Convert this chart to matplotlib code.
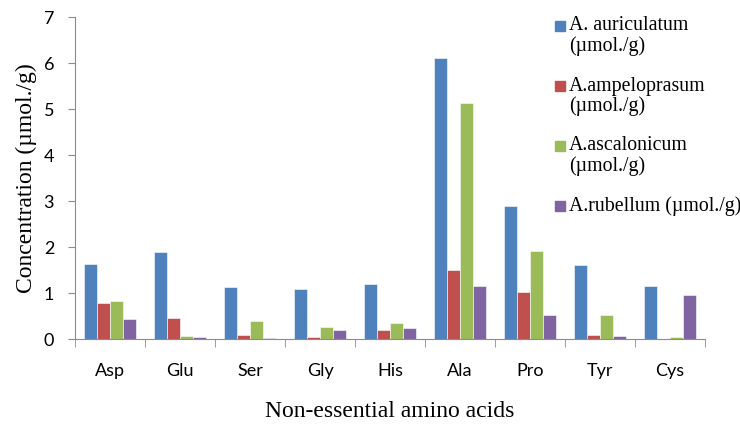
import matplotlib.pyplot as plt
import numpy as np
from matplotlib.patches import Rectangle

amino_acids = ["Asp", "Glu", "Ser", "Gly", "His", "Ala", "Pro", "Tyr", "Cys"]
auriculatum = [1.63, 1.90, 1.12, 1.08, 1.19, 6.11, 2.89, 1.61, 1.15]
ampeloprasum = [0.78, 0.45, 0.09, 0.04, 0.19, 1.49, 1.02, 0.09, 0.0]
ascalonicum = [0.82, 0.07, 0.39, 0.27, 0.35, 5.13, 1.92, 0.52, 0.04]
rubellum = [0.43, 0.04, 0.02, 0.19, 0.25, 1.15, 0.52, 0.07, 0.95]

series = [
    ("A. auriculatum\n(\u00b5mol./g)", auriculatum, "#4F81BD"),
    ("A.ampeloprasum\n(\u00b5mol./g)", ampeloprasum, "#C0504D"),
    ("A.ascalonicum\n(\u00b5mol./g)", ascalonicum, "#9BBB59"),
    ("A.rubellum (\u00b5mol./g)", rubellum, "#8064A2"),
]

serif = ["Liberation Serif", "DejaVu Serif"]
sans = ["Lato", "DejaVu Sans"]

W, H = 740, 424
fig = plt.figure(figsize=(W / 100, H / 100), dpi=100)
ax = fig.add_axes([75 / W, 1 - 339 / H, 630 / W, 322 / H])

x = np.arange(len(amino_acids))
width = 0.183
for i, (label, vals, color) in enumerate(series):
    ax.bar(x + (i - 1.5) * width, vals, width, color=color,
           edgecolor="white", linewidth=0.4)

ax.set_xlim(-0.5, len(amino_acids) - 0.5)
ax.set_ylim(0, 7)
ax.set_yticks(range(0, 8))
ax.set_xticks(x)
ax.set_xticklabels(amino_acids, family=sans, fontsize=13)
ax.set_xticks(np.arange(-0.5, len(amino_acids)), minor=True)
ax.tick_params(axis="x", which="major", length=0, pad=17)
ax.tick_params(axis="x", which="minor", length=6, color="#8c8c8c")
ax.tick_params(axis="y", length=5, color="#8c8c8c", pad=10)
for lab in ax.get_yticklabels():
    lab.set_family(sans)
    lab.set_fontsize(13)

for side in ["top", "right"]:
    ax.spines[side].set_visible(False)
for side in ["left", "bottom"]:
    ax.spines[side].set_color("#8c8c8c")

ax.set_xlabel("Non-essential amino acids", family=serif, fontsize=17, labelpad=16)
ax.set_ylabel("Concentration (\u00b5mol./g)", family=serif, fontsize=17, labelpad=5)

# legend drawn by hand so the key sits on the first line of each label
for i, (label, vals, color) in enumerate(series):
    y0 = 26 + 60 * i
    fig.add_artist(Rectangle((555 / W, 1 - (y0 + 5) / H), 10 / W, 10 / H,
                             transform=fig.transFigure, color=color))
    for j, line in enumerate(label.split("\n")):
        fig.text(569 / W, 1 - (y0 + 20 * j) / H, line, family=serif,
                 fontsize=14.3, va="center", ha="left")

fig.savefig("out.png", dpi=100)
